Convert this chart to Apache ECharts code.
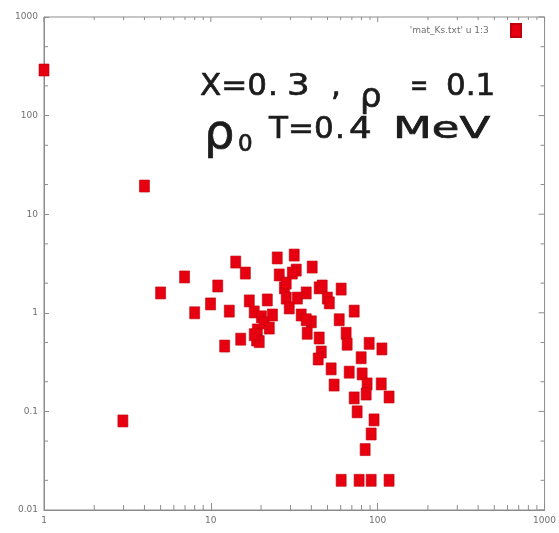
<!DOCTYPE html>
<html>
<head>
<meta charset="utf-8">
<script src="https://cdn.jsdelivr.net/npm/echarts@6.0.0/dist/echarts.min.js"></script>
<style>
  html, body { margin: 0; padding: 0; background: #ffffff; }
  #chart { width: 559px; height: 533px; }
</style>
</head>
<body>
<div id="chart"></div>
<script>
// Measured points: column 1 of mat_Ks.txt against column 3
const xValues = [1, 4.0, 2.97, 5.0, 6.96, 8.0, 11.0, 9.96, 12.9, 12.1,
  15.1, 14.1, 16.1, 17.0, 18.2, 20.1, 19.0, 18.8, 20.9, 22.4,
  23.4, 21.8, 25.0, 31.6, 32.5, 25.7, 30.8, 27.6, 28.3, 29.5,
  40.5, 37.3, 33.0, 44.6, 60.4, 49.9, 51.3, 34.8, 40.0, 37.8,
  44.6, 45.9, 19.5, 18.2, 58.8, 64.7, 72.3, 65.6, 88.9, 106,
  44.0, 52.6, 79.6, 67.5, 80.7, 54.8, 86.4, 105, 72.3, 85.3,
  117, 75.3, 95.1, 91.4, 84.1, 60.4, 77.4, 91.4, 117, 46.5,
  37.3, 28.3];
const yValues = [290, 19.3, 0.080, 1.59, 2.31, 1.0, 1.87, 1.23, 1.04, 0.46,
  0.54, 3.27, 2.53, 1.32, 1.02, 0.91, 0.67, 0.53, 0.79, 0.70,
  0.95, 1.35, 3.6, 3.85, 2.71, 2.42, 2.53, 1.79, 1.41, 1.12,
  2.91, 1.59, 1.41, 1.79, 1.74, 1.41, 1.26, 0.95, 0.81, 0.62,
  0.555, 0.40, 0.51, 0.60, 0.85, 0.62, 1.04, 0.48, 0.49, 0.43,
  0.34, 0.27, 0.35, 0.25, 0.24, 0.185, 0.19, 0.19, 0.137, 0.15,
  0.14, 0.099, 0.082, 0.059, 0.041, 0.02, 0.02, 0.02, 0.02, 1.87,
  0.85, 2.0];

const seriesName = "'mat_Ks.txt' u 1:3";

// Axis ranges and tick labels
const xMajorTicks = [1, 10, 100, 1000];
const xTickLabels = ['1', '10', '100', '1000'];
const yMajorTicks = [0.01, 0.1, 1, 10, 100, 1000];
const yTickLabels = ['0.01', '0.1', '1', '10', '100', '1000'];
const xMinorTicks = [2, 3, 4, 5, 6, 7, 8, 9, 20, 30, 40, 50, 60, 70, 80, 90,
  200, 300, 400, 500, 600, 700, 800, 900];
const yMinorTicks = [0.02, 0.05, 0.2, 0.5, 2, 5, 20, 50, 200, 500];

const X_MIN = xMajorTicks[0], X_MAX = xMajorTicks[xMajorTicks.length - 1];
const Y_MIN = yMajorTicks[0], Y_MAX = yMajorTicks[yMajorTicks.length - 1];

function labelFor(ticks, labels, v) {
  let best = 0, bestD = Infinity;
  ticks.forEach((t, i) => {
    const d = Math.abs(Math.log10(t) - Math.log10(v));
    if (d < bestD) { bestD = d; best = i; }
  });
  return bestD < 1e-6 ? labels[best] : '';
}

// Frame ticks: [x, y, side, length]  side 0 = bottom, 1 = top, 2 = left, 3 = right
const frameTicks = [];
xMinorTicks.forEach(v => { frameTicks.push([v, Y_MIN, 0, 5]); frameTicks.push([v, Y_MAX, 1, 3]); });
yMinorTicks.forEach(v => { frameTicks.push([X_MIN, v, 2, 4]); frameTicks.push([X_MAX, v, 3, 4]); });
xMajorTicks.forEach(v => { frameTicks.push([v, Y_MAX, 1, 5]); });
yMajorTicks.forEach(v => { frameTicks.push([X_MAX, v, 3, 6]); });

const chart = echarts.init(document.getElementById('chart'), null, { renderer: 'canvas' });

const axisColor = '#8c8c8c';
const inkColor = '#1c1c1c';
const bigFont = '"DejaVu Sans", sans-serif';

function txt(text, x, y, size, extra) {
  return Object.assign({
    type: 'text',
    x: x,
    y: y,
    silent: true,
    style: {
      text: text,
      font: size + 'px ' + bigFont,
      fill: inkColor,
      stroke: inkColor,
      lineWidth: 0.7,
      textAlign: 'left',
      textVerticalAlign: 'middle'
    }
  }, extra || {});
}

chart.setOption({
  backgroundColor: '#ffffff',
  animation: false,
  grid: {
    left: 44, right: 13, top: 17, bottom: 23,
    show: true, borderColor: axisColor, borderWidth: 1,
    containLabel: false
  },
  legend: {
    right: 37, top: 23, padding: 0,
    align: 'right',
    itemWidth: 10, itemHeight: 13,
    formatter: name => name + '      ',
    textStyle: { fontSize: 9, color: '#707070', fontFamily: 'DejaVu Sans' },
    data: [{ name: seriesName, icon: 'rect' }]
  },
  xAxis: {
    type: 'log', logBase: 10, min: X_MIN, max: X_MAX,
    axisLine: { show: true, lineStyle: { color: axisColor, width: 1 } },
    axisTick: { show: true, inside: true, length: 7, lineStyle: { color: axisColor } },
    axisLabel: {
      fontSize: 9, color: '#707070', margin: 6, fontFamily: 'DejaVu Sans',
      formatter: v => labelFor(xMajorTicks, xTickLabels, v)
    },
    splitLine: { show: false }
  },
  yAxis: {
    type: 'log', logBase: 10, min: Y_MIN, max: Y_MAX,
    axisLine: { show: true, lineStyle: { color: axisColor, width: 1 } },
    axisTick: { show: true, inside: true, length: 5, lineStyle: { color: axisColor } },
    axisLabel: {
      fontSize: 9, color: '#707070', margin: 6, fontFamily: 'DejaVu Sans',
      formatter: v => labelFor(yMajorTicks, yTickLabels, v)
    },
    splitLine: { show: false }
  },
  series: [
    {
      type: 'custom',
      name: 'frame ticks',
      silent: true,
      z: 1,
      data: frameTicks,
      renderItem: function (params, api) {
        const p = api.coord([api.value(0), api.value(1)]);
        const side = api.value(2), len = api.value(3);
        let x2 = p[0], y2 = p[1];
        if (side === 0) y2 -= len;
        else if (side === 1) y2 += len;
        else if (side === 2) x2 += len;
        else x2 -= len;
        return {
          type: 'line',
          shape: { x1: p[0], y1: p[1], x2: x2, y2: y2 },
          style: { stroke: axisColor, lineWidth: 1 }
        };
      }
    },
    {
      type: 'scatter',
      name: seriesName,
      symbol: 'rect',
      symbolSize: [10, 12],
      clip: false,
      z: 3,
      itemStyle: { color: '#e60010', opacity: 1, borderColor: '#c0000c', borderWidth: 0.6 },
      data: xValues.map((x, i) => [x, yValues[i]])
    }
  ],
  graphic: [
    // first annotation line
    txt('X=0', 200, 87, 31),
    txt('.', 268, 87, 31),
    txt('3', 287, 87, 31, { scaleX: 1.15 }),
    txt(',', 331, 87, 31),
    txt('\u03c1', 360, 98, 34),
    txt('=', 410, 87, 31, { scaleX: 0.7 }),
    txt('0.1', 446, 87, 31),
    // second annotation line
    txt('\u03c1', 204, 136, 48),
    txt('0', 238, 145, 23),
    txt('T=0', 269, 130, 31),
    txt('.', 335, 130, 31),
    txt('4', 349, 130, 31, { scaleX: 1.15 }),
    txt('MeV', 393, 130, 31, { scaleX: 1.45 })
  ]
});
</script>
</body>
</html>
